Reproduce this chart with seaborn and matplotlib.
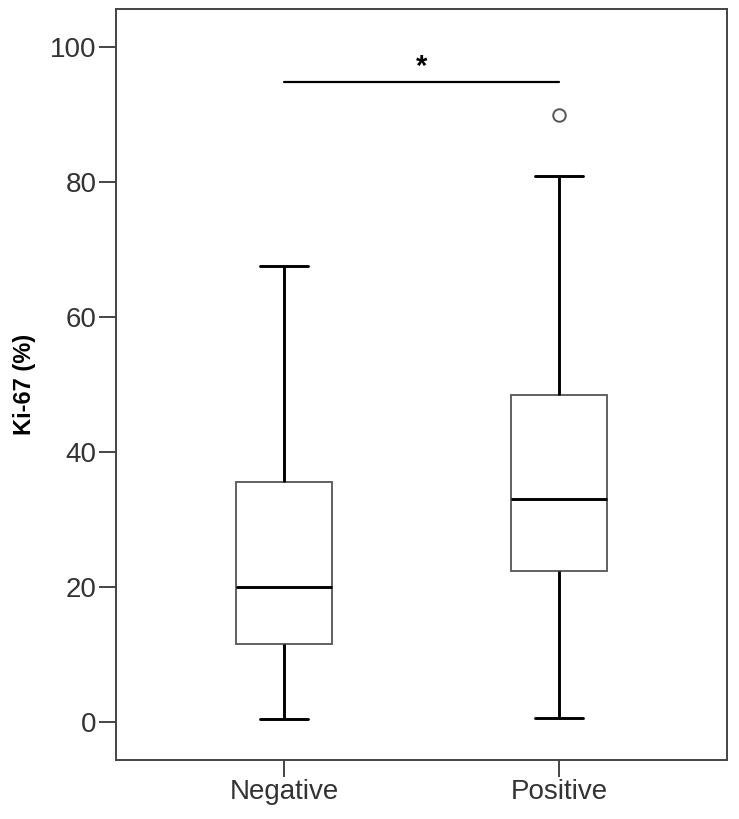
import numpy as np
import pandas as pd
import matplotlib
matplotlib.use("Agg")
import matplotlib.pyplot as plt
import seaborn as sns

# five-number summaries
groups = ["Negative", "Positive"]
lows = [0.4, 0.65]
q1s = [11.5, 22.4]
medians = [20.0, 33.1]
q3s = [35.6, 48.4]
highs = [67.6, 80.8]
outliers = [[], [89.9]]

sig_pair = ["Negative", "Positive"]
sig_y = 94.8
sig_label = "*"

# rebuild a small sample per group whose quartiles equal the summary values
rows = []
for g, lo, a, m, b, hi, out in zip(groups, lows, q1s, medians, q3s, highs, outliers):
    vals = [lo, a, a, m, m, b, b, hi] + out
    if not out:
        vals = [lo, a, m, b, hi]
    for v in vals:
        rows.append({"group": g, "ki67": v})
df = pd.DataFrame(rows)

sns.set_style("white")
plt.rcParams["font.family"] = ["Liberation Sans", "DejaVu Sans"]

fig = plt.figure(figsize=(7.39, 8.19), dpi=100)
ax = fig.add_axes([0.157, 0.072, 0.827, 0.917])

sns.boxplot(data=df, x="group", y="ki67", order=groups, ax=ax,
            width=0.35, color="white", linecolor="black",
            boxprops=dict(edgecolor="#555555", linewidth=1.3),
            whiskerprops=dict(color="black", linewidth=2.1),
            capprops=dict(color="black", linewidth=2.1),
            medianprops=dict(color="black", linewidth=2.1),
            flierprops=dict(marker="o", markerfacecolor="white",
                            markeredgecolor="#555555", markersize=9,
                            markeredgewidth=1.4))

# significance bar
x0, x1 = groups.index(sig_pair[0]), groups.index(sig_pair[1])
ax.plot([x0, x1], [sig_y, sig_y], color="black", lw=1.6)
ax.text((x0 + x1) / 2, sig_y + 0.1, sig_label, ha="center", va="bottom",
        fontsize=21, fontweight="bold", color="black")

ax.set_xlim(-0.61, 1.61)
ax.set_ylim(-5.63, 105.6)
ax.set_yticks([0, 20, 40, 60, 80, 100])
ax.set_xlabel("")
ax.set_ylabel("Ki-67 (%)", fontsize=17, fontweight="bold", labelpad=10,
              color="black")

for s in ax.spines.values():
    s.set_visible(True)
    s.set_color("#444444")
    s.set_linewidth(1.4)
ax.tick_params(axis="both", direction="out", length=12, width=1.4,
               color="#444444", labelsize=20, labelcolor="#333333", pad=2,
               left=True, bottom=True)

fig.savefig("out.png", dpi=100)
